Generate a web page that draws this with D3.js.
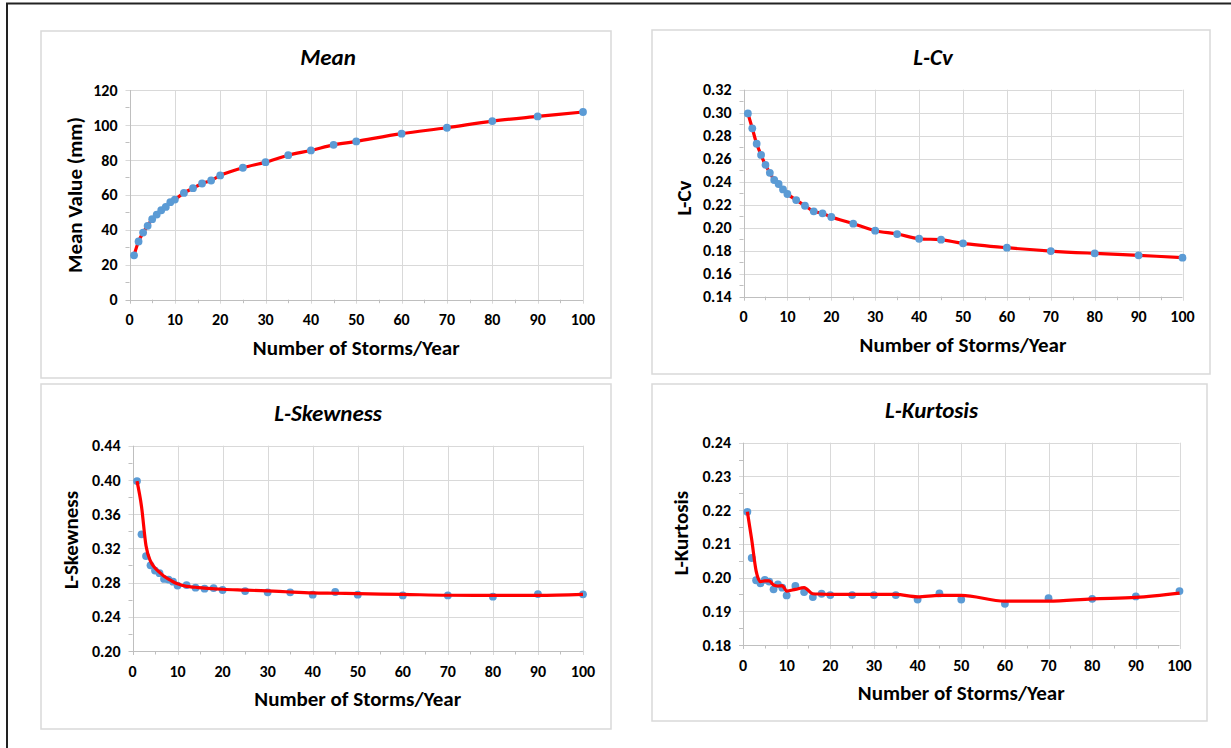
<!DOCTYPE html>
<html>
<head>
<meta charset="utf-8">
<script src="https://cdn.jsdelivr.net/npm/d3@7"></script>
<style>
  body { margin: 0; background: #fff; }
  svg text { font-family: Carlito, Calibri, Lato, "Open Sans", sans-serif; font-weight: bold; fill: #000; }
</style>
</head>
<body>
<svg id="chart" width="1231" height="748"></svg>
<script>
// number of storms per year (shared x values)
var storms = [1, 2, 3, 4, 5, 6, 7, 8, 9, 10, 12, 14, 16, 18, 20, 25, 30, 35, 40, 45, 50, 60, 70, 80, 90, 100];

var meanVals = [25.4, 33.3, 38.4, 42.3, 46.1, 48.7, 51.2, 53.1, 55.8, 57.3, 61.1, 63.8, 66.5, 68.2, 71.1,
  75.5, 78.7, 82.7, 85.4, 88.6, 90.6, 95.0, 98.4, 102.2, 104.9, 107.4];

var lcvVals = [0.2994, 0.2864, 0.2730, 0.2633, 0.2546, 0.2477, 0.2415, 0.2380, 0.2333, 0.2293, 0.2240,
  0.2191, 0.2142, 0.2125, 0.2093, 0.2035, 0.1974, 0.1945, 0.1904, 0.1896, 0.1864, 0.1826, 0.1797,
  0.1777, 0.1760, 0.1739];

var skewVals = [0.3987, 0.3364, 0.3110, 0.3002, 0.2940, 0.2910, 0.2843, 0.2835, 0.2810, 0.2765, 0.2771,
  0.2740, 0.2729, 0.2736, 0.2713, 0.2701, 0.2686, 0.2686, 0.2658, 0.2690, 0.2658, 0.2650, 0.2650,
  0.2635, 0.2666, 0.2662];
var skewTrend = [0.3985, 0.3690, 0.3230, 0.3050, 0.2970, 0.2920, 0.2875, 0.2840, 0.2810, 0.2785, 0.2755,
  0.2745, 0.2735, 0.2728, 0.2722, 0.2712, 0.2702, 0.2690, 0.2680, 0.2675, 0.2670, 0.2662, 0.2652,
  0.2650, 0.2650, 0.2662];

var kurtVals = [0.2195, 0.2058, 0.1992, 0.1983, 0.1993, 0.1988, 0.1965, 0.1980, 0.1970, 0.1947, 0.1975,
  0.1957, 0.1942, 0.1952, 0.1948, 0.1948, 0.1948, 0.1948, 0.1935, 0.1953, 0.1935, 0.1922, 0.1939,
  0.1937, 0.1944, 0.1960];
var kurtTrend = [0.2195, 0.2112, 0.2020, 0.1988, 0.1990, 0.1990, 0.1978, 0.1975, 0.1976, 0.1960, 0.1965,
  0.1970, 0.1952, 0.1951, 0.1950, 0.1950, 0.1950, 0.1950, 0.1943, 0.1947, 0.1947, 0.1930, 0.1930,
  0.1937, 0.1941, 0.1954];

var xTicks = [0, 10, 20, 30, 40, 50, 60, 70, 80, 90, 100];
var xMinor = [5, 15, 25, 35, 45, 55, 65, 75, 85, 95];

var meanTicks = [0, 20, 40, 60, 80, 100, 120];
var lcvTicks = [0.14, 0.16, 0.18, 0.20, 0.22, 0.24, 0.26, 0.28, 0.30, 0.32];
var skewTicks = [0.20, 0.24, 0.28, 0.32, 0.36, 0.40, 0.44];
var kurtTicks = [0.18, 0.19, 0.20, 0.21, 0.22, 0.23, 0.24];

var titles = ["Mean", "L-Cv", "L-Skewness", "L-Kurtosis"];
var yTitles = ["Mean Value (mm)", "L-Cv", "L-Skewness", "L-Kurtosis"];
var xTitle = "Number of Storms/Year";

var svg = d3.select("#chart");

svg.append("rect").attr("width", 1231).attr("height", 748).attr("fill", "#fff");

// outer frame (top + left edge only visible)
svg.append("line").attr("x1", 6).attr("x2", 1231).attr("y1", 3.5).attr("y2", 3.5)
  .attr("stroke", "#222").attr("stroke-width", 2);
svg.append("line").attr("x1", 7).attr("x2", 7).attr("y1", 3).attr("y2", 748)
  .attr("stroke", "#222").attr("stroke-width", 2);

var panels = [
  { box: [41, 31, 611, 378], l: 129.5, r: 583, t: 90, b: 299.7, yt: -55, ytc: 195,
    ticks: meanTicks, fmt: d3.format("d"), vals: meanVals, line: null },
  { box: [652, 30, 1210, 374], l: 743.5, r: 1182.5, t: 89.7, b: 296.7, yt: -60, ytc: 198,
    ticks: lcvTicks, fmt: d3.format(".2f"), vals: lcvVals, line: null },
  { box: [41, 384, 611, 729], l: 132.5, r: 583, t: 445.7, b: 651, yt: -62, ytc: 540,
    ticks: skewTicks, fmt: d3.format(".2f"), vals: skewVals, line: skewTrend },
  { box: [652, 384, 1207, 721], l: 743, r: 1179.5, t: 442.7, b: 645, yt: -62, ytc: 533,
    ticks: kurtTicks, fmt: d3.format(".2f"), vals: kurtVals, line: kurtTrend }
];

panels.forEach(function(p, i) {
  var g = svg.append("g");

  g.append("rect")
    .attr("x", p.box[0]).attr("y", p.box[1])
    .attr("width", p.box[2] - p.box[0]).attr("height", p.box[3] - p.box[1])
    .attr("fill", "#fff").attr("stroke", "#d9d9d9").attr("stroke-width", 1.5);

  var x = d3.scaleLinear().domain([0, 100]).range([p.l, p.r]);
  var ext = d3.extent(p.ticks);
  var y = d3.scaleLinear().domain(ext).range([p.b, p.t]);
  var step = p.ticks[1] - p.ticks[0];
  var yMinor = p.ticks.slice(0, -1).map(function(v) { return v + step / 2; });

  // gridlines
  g.selectAll(".hgrid").data(p.ticks.slice(1)).enter().append("line")
    .attr("x1", p.l - 4).attr("x2", p.r)
    .attr("y1", function(d) { return Math.round(y(d)) + 0.5; })
    .attr("y2", function(d) { return Math.round(y(d)) + 0.5; })
    .attr("stroke", "#d9d9d9");
  g.selectAll(".vgrid").data(xTicks.slice(1)).enter().append("line")
    .attr("x1", function(d) { return Math.round(x(d)) + 0.5; })
    .attr("x2", function(d) { return Math.round(x(d)) + 0.5; })
    .attr("y1", p.t).attr("y2", p.b + 4)
    .attr("stroke", "#d9d9d9");

  // minor ticks
  g.selectAll(".ym").data(yMinor).enter().append("line")
    .attr("x1", p.l - 4).attr("x2", p.l)
    .attr("y1", function(d) { return Math.round(y(d)) + 0.5; })
    .attr("y2", function(d) { return Math.round(y(d)) + 0.5; })
    .attr("stroke", "#bfbfbf");
  g.selectAll(".xm").data(xMinor).enter().append("line")
    .attr("x1", function(d) { return Math.round(x(d)) + 0.5; })
    .attr("x2", function(d) { return Math.round(x(d)) + 0.5; })
    .attr("y1", p.b).attr("y2", p.b + 3.5)
    .attr("stroke", "#bfbfbf");

  // axis lines
  g.append("line").attr("x1", Math.round(p.l) + 0.5).attr("x2", Math.round(p.l) + 0.5)
    .attr("y1", p.t).attr("y2", p.b + 4).attr("stroke", "#bfbfbf");
  g.append("line").attr("x1", p.l - 4).attr("x2", p.r)
    .attr("y1", Math.round(p.b) + 0.5).attr("y2", Math.round(p.b) + 0.5).attr("stroke", "#bfbfbf");

  // tick labels
  g.selectAll(".yl").data(p.ticks).enter().append("text")
    .attr("x", p.l - 12).attr("y", function(d) { return y(d); })
    .attr("dy", "0.35em").attr("text-anchor", "end")
    .style("font-size", "16px")
    .text(p.fmt);
  g.selectAll(".xl").data(xTicks).enter().append("text")
    .attr("x", function(d) { return x(d); }).attr("y", p.b + 20)
    .attr("dy", "0.35em").attr("text-anchor", "middle")
    .style("font-size", "16px")
    .text(function(d) { return d; });

  // titles (chart title is centred on the panel box)
  g.append("text")
    .attr("x", (p.box[0] + p.box[2]) / 2 + 2).attr("y", p.t - 33)
    .attr("dy", "0.35em").attr("text-anchor", "middle")
    .style("font-size", "23px").style("font-style", "italic")
    .text(titles[i]);
  g.append("text")
    .attr("x", (p.l + p.r) / 2).attr("y", p.b + 48)
    .attr("dy", "0.35em").attr("text-anchor", "middle")
    .style("font-size", "21px")
    .text(xTitle);
  g.append("text")
    .attr("transform", "translate(" + (p.l + p.yt) + "," + p.ytc + ") rotate(-90)")
    .attr("dy", "0.35em").attr("text-anchor", "middle")
    .style("font-size", "21px")
    .text(yTitles[i]);

  var pts = storms.map(function(s, k) { return [s, p.vals[k]]; });
  var lineGen = d3.line()
    .x(function(d) { return x(d[0]); })
    .y(function(d) { return y(d[1]); })
    .curve(p.line ? d3.curveMonotoneX : d3.curveCatmullRom.alpha(0.5));

  function drawMarkers() {
    g.selectAll(".pt").data(pts).enter().append("circle")
      .attr("cx", function(d) { return x(d[0]); })
      .attr("cy", function(d) { return y(d[1]); })
      .attr("r", 3.9)
      .attr("fill", "#5b9bd5");
  }

  if (p.line) {
    drawMarkers();
    var trend = storms.map(function(s, k) { return [s, p.line[k]]; });
    g.append("path").datum(trend).attr("d", lineGen)
      .attr("fill", "none").attr("stroke", "#ff0000").attr("stroke-width", 3.2)
      .attr("stroke-linejoin", "round");
  } else {
    g.append("path").datum(pts).attr("d", lineGen)
      .attr("fill", "none").attr("stroke", "#ff0000").attr("stroke-width", 3.2)
      .attr("stroke-linejoin", "round");
    drawMarkers();
  }
});
</script>
</body>
</html>
